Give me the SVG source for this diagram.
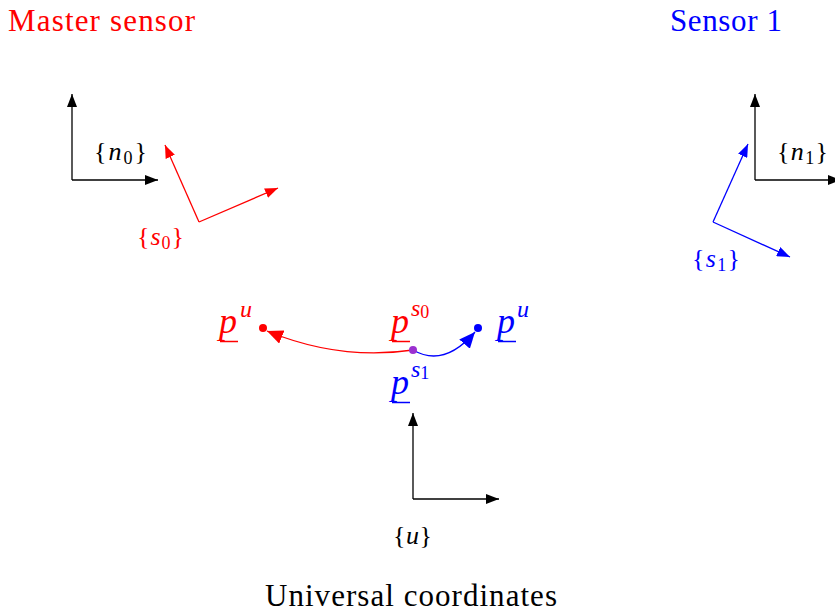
<svg xmlns="http://www.w3.org/2000/svg" width="835" height="614" viewBox="0 0 835 614" font-family="Liberation Serif, serif">
<style>
.t{font-size:31px}
.lab{font-size:26px}
.i{font-style:italic}
.sub{font-size:18px}
.p{font-size:36px}
.sup{font-size:24px}
.ax{fill:none;stroke:#000;stroke-width:1.3}
.axr{fill:none;stroke:#f00;stroke-width:1.3}
.axb{fill:none;stroke:#00f;stroke-width:1.3}
</style>
<defs>
<marker id="ak" markerUnits="userSpaceOnUse" markerWidth="14" markerHeight="10" refX="13" refY="5" orient="auto"><path d="M0,0 L13,5 L0,10 z" fill="#000"/></marker>
<marker id="ar" markerUnits="userSpaceOnUse" markerWidth="14" markerHeight="10" refX="13" refY="5" orient="auto"><path d="M0,0 L13,5 L0,10 z" fill="#f00"/></marker>
<marker id="ab" markerUnits="userSpaceOnUse" markerWidth="14" markerHeight="10" refX="13" refY="5" orient="auto"><path d="M0,0 L13,5 L0,10 z" fill="#00f"/></marker>
<marker id="arL" markerUnits="userSpaceOnUse" markerWidth="17" markerHeight="14" refX="16" refY="7" orient="auto"><path d="M0,0 L16,7 L0,14 z" fill="#f00"/></marker>
<marker id="abL" markerUnits="userSpaceOnUse" markerWidth="17" markerHeight="14" refX="16" refY="7" orient="auto"><path d="M0,0 L16,7 L0,14 z" fill="#00f"/></marker>
</defs>

<g id="title-master"><text class="t" x="8" y="31" fill="#f00" textLength="187" lengthAdjust="spacing">Master sensor</text></g>
<g id="title-sensor1"><text class="t" x="670" y="31" fill="#00f" textLength="112" lengthAdjust="spacing">Sensor 1</text></g>
<g id="title-universal"><text class="t" x="265" y="606" fill="#000" textLength="292" lengthAdjust="spacing">Universal coordinates</text></g>

<g id="frame-n0">
<path class="ax" d="M72,180 L72,94" marker-end="url(#ak)"/>
<path class="ax" d="M72,180 L158,180" marker-end="url(#ak)"/>
<text class="lab" x="94" y="160" fill="#000" textLength="53" lengthAdjust="spacing">{<tspan class="i">n</tspan><tspan class="sub" dy="4">0</tspan><tspan dy="-4">}</tspan></text>
</g>

<g id="frame-s0">
<path class="axr" d="M199,222 L165,145" marker-end="url(#ar)"/>
<path class="axr" d="M199,222 L278,188" marker-end="url(#ar)"/>
<text class="lab" x="137" y="245" fill="#f00" textLength="47" lengthAdjust="spacing">{<tspan class="i">s</tspan><tspan class="sub" dy="4">0</tspan><tspan dy="-4">}</tspan></text>
</g>

<g id="frame-n1">
<path class="ax" d="M755,180 L755,94" marker-end="url(#ak)"/>
<path class="ax" d="M755,180 L841,180" marker-end="url(#ak)"/>
<text class="lab" x="777" y="160" fill="#000" textLength="51" lengthAdjust="spacing">{<tspan class="i">n</tspan><tspan class="sub" dy="4">1</tspan><tspan dy="-4">}</tspan></text>
</g>

<g id="frame-s1">
<path class="axb" d="M713,222 L748,144" marker-end="url(#ab)"/>
<path class="axb" d="M713,222 L790,257" marker-end="url(#ab)"/>
<text class="lab" x="692" y="267" fill="#00f" textLength="48" lengthAdjust="spacing">{<tspan class="i">s</tspan><tspan class="sub" dy="4">1</tspan><tspan dy="-4">}</tspan></text>
</g>

<g id="frame-u">
<path class="ax" d="M413,499 L413,413" marker-end="url(#ak)"/>
<path class="ax" d="M413,499 L499,499" marker-end="url(#ak)"/>
<text class="lab" x="393" y="544" fill="#000" textLength="39" lengthAdjust="spacing">{<tspan class="i">u</tspan>}</text>
</g>

<g id="connectors">
<path d="M413,350 Q340,361 267,331" fill="none" stroke="#f00" stroke-width="1.3" marker-end="url(#arL)"/>
<path d="M413,350 Q444,368 475,332" fill="none" stroke="#00f" stroke-width="1.3" marker-end="url(#abL)"/>
</g>

<g id="pt-pu-red">
<circle cx="263" cy="328" r="4" fill="#f00"/>
<text class="p i" x="219" y="333" fill="#f00">p</text>
<text class="sup i" x="240" y="317" fill="#f00">u</text>
<line x1="220" y1="341.5" x2="238" y2="341.5" stroke="#f00" stroke-width="1.5"/>
</g>

<g id="pt-ps0">
<circle cx="413" cy="350" r="4" fill="#9b30d0"/>
<text class="p i" x="391" y="333" fill="#f00">p</text>
<text class="sup" x="411" y="316" fill="#f00"><tspan class="i">s</tspan><tspan class="sub" dy="2">0</tspan></text>
<line x1="392" y1="341.5" x2="410" y2="341.5" stroke="#f00" stroke-width="1.5"/>
</g>

<g id="pt-pu-blue">
<circle cx="478" cy="328" r="4" fill="#00f"/>
<text class="p i" x="497" y="333" fill="#00f">p</text>
<text class="sup i" x="517" y="317" fill="#00f">u</text>
<line x1="498" y1="341.5" x2="516" y2="341.5" stroke="#00f" stroke-width="1.5"/>
</g>

<g id="pt-ps1">
<text class="p i" x="391" y="394" fill="#00f">p</text>
<text class="sup" x="411" y="377" fill="#00f"><tspan class="i">s</tspan><tspan class="sub" dy="2">1</tspan></text>
<line x1="392" y1="402.5" x2="410" y2="402.5" stroke="#00f" stroke-width="1.5"/>
</g>
</svg>
